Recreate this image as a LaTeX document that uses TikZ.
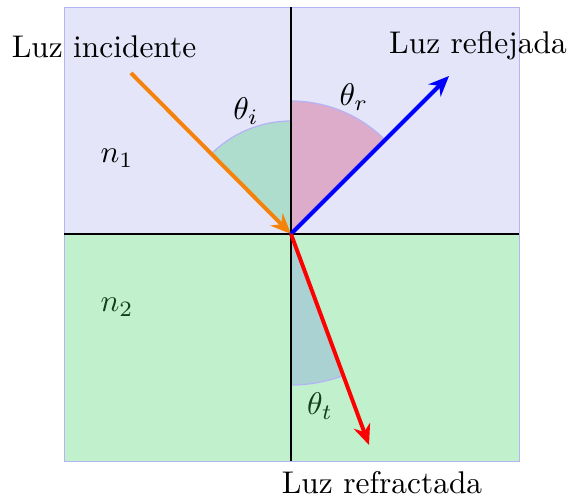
\documentclass[tikz,border=0pt]{standalone}
\usetikzlibrary{arrows.meta}
\definecolor{topbg}{RGB}{229,229,250}
\definecolor{botbg}{RGB}{192,241,204}
\definecolor{edge}{RGB}{180,180,245}
\definecolor{secI}{RGB}{175,221,205}
\definecolor{secR}{RGB}{221,172,202}
\definecolor{secT}{RGB}{170,210,210}
\definecolor{inc}{RGB}{245,130,10}
\definecolor{dkgreen}{RGB}{20,60,30}
\begin{document}
\begin{tikzpicture}[x=0.3185pt,y=-0.3185pt,
  ray/.style={line width=1.25pt,-{Stealth[length=6.5pt,width=5.5pt]}},
  sector/.style={draw=edge,line width=0.4pt},
  lbl/.style={inner sep=0pt}]
\useasboundingbox (0,0) rectangle (568,497);
\coordinate (O) at (291,234);
\fill[topbg] (64,7) rectangle (519,234);
\fill[botbg] (64,234) rectangle (519,461);
\draw[edge,line width=0.3pt] (64,7) rectangle (519,461);
% sectors
\fill[secI] (O) -- ++(0,-113) arc[start angle=90,end angle=135,radius=113*0.3185pt] -- cycle;
\draw[sector] (O) ++(0,-113) arc[start angle=90,end angle=135,radius=113*0.3185pt];
\fill[secR] (O) -- ++(0,-133) arc[start angle=90,end angle=45,radius=133*0.3185pt] -- cycle;
\draw[sector] (O) ++(0,-133) arc[start angle=90,end angle=45,radius=133*0.3185pt];
\fill[secT] (O) -- ++(0,151) arc[start angle=270,end angle=290.3,radius=151*0.3185pt] -- cycle;
\draw[sector] (O) ++(0,151) arc[start angle=270,end angle=290.3,radius=151*0.3185pt];
% axes
\coordinate (T) at (291,7);
\coordinate (B) at (291,461);
\coordinate (L) at (64,234);
\coordinate (R) at (519,234);
\draw[black,line width=0.4pt] (T) -- (B);
\draw[black,line width=0.4pt] (L) -- (R);
% rays
\coordinate (S) at (131,73);
\coordinate (E1) at (449,76);
\coordinate (E2) at (369,445);
\draw[ray,inc] (S) -- (O);
\draw[ray,blue] (O) -- (E1);
\draw[ray,red] (O) -- (E2);
% labels
\node[lbl] (li) at (104,47) {Luz incidente};
\node[lbl] (lr) at (478,46) {Luz reflejada};
\node[lbl] (lt) at (382,483) {Luz refractada};
\node[lbl] (n1) at (117,158) {$n_1$};
\node[lbl,text=dkgreen] (n2) at (117,307) {$n_2$};
\node[lbl] (ti) at (246,111) {$\theta_i$};
\node[lbl] (tr) at (354,97) {$\theta_r$};
\node[lbl,text=dkgreen] (tt) at (320,406) {$\theta_t$};
\end{tikzpicture}
\end{document}
